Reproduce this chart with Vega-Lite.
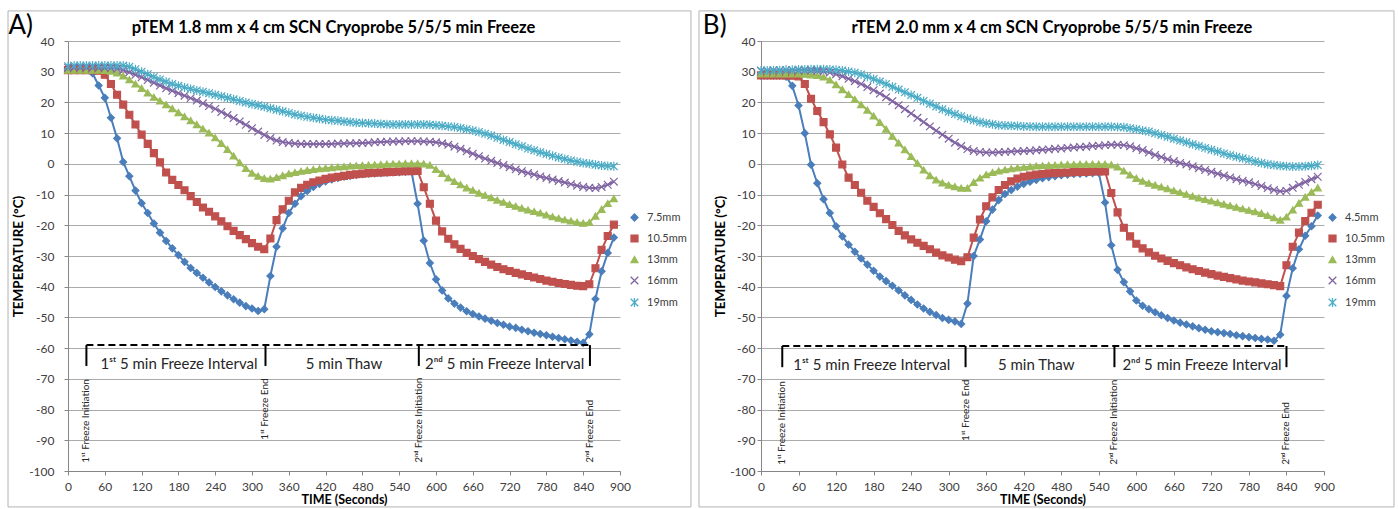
{
  "$schema": "https://vega.github.io/schema/vega-lite/v6.json",
  "padding": {"left": 7, "top": 10, "right": 4, "bottom": 1},
  "spacing": 6,
  "config": {
    "font": "Lato",
    "view": {"stroke": null},
    "axis": {"labelFont": "Lato", "labelFontSize": 12, "labelColor": "#404040", "titleFont": "Lato", "titleFontWeight": "bold", "titleColor": "#000000", "domainColor": "#868686", "tickColor": "#868686", "gridColor": "#ABABAB", "tickSize": 4, "labelOverlap": false, "labelFlush": false, "tickCount": 30},
    "axisX": {"grid": false, "labelPadding": 6, "titleFontSize": 12.5, "titlePadding": 1},
    "axisY": {"grid": true, "titleFontSize": 13.5},
    "legend": {"labelFont": "Lato", "labelFontSize": 11, "labelColor": "#404040", "rowPadding": 8, "labelOffset": 7, "symbolSize": 48, "symbolStrokeWidth": 1.3, "padding": 0}
  },
  "datasets": {
    "A": [
      {"t":0,"mm7_5":31,"mm10_5":30.5,"mm13":30.5,"mm16":31.3,"mm19":31.8},
      {"t":10,"mm7_5":31,"mm10_5":30.5,"mm13":30.5,"mm16":31.3,"mm19":32},
      {"t":20,"mm7_5":31,"mm10_5":30.5,"mm13":30.5,"mm16":31.3,"mm19":32},
      {"t":30,"mm7_5":30.8,"mm10_5":30.5,"mm13":30.5,"mm16":31.3,"mm19":32},
      {"t":40,"mm7_5":29.5,"mm10_5":30.5,"mm13":30.5,"mm16":31.3,"mm19":32},
      {"t":50,"mm7_5":25.5,"mm10_5":30.3,"mm13":30.5,"mm16":31.3,"mm19":32},
      {"t":60,"mm7_5":21.5,"mm10_5":29,"mm13":30.4,"mm16":31.3,"mm19":32},
      {"t":70,"mm7_5":15,"mm10_5":26,"mm13":30.2,"mm16":31.2,"mm19":32},
      {"t":80,"mm7_5":8.3,"mm10_5":22.5,"mm13":29.6,"mm16":31,"mm19":32},
      {"t":90,"mm7_5":0.6,"mm10_5":19.3,"mm13":28.6,"mm16":30.5,"mm19":32},
      {"t":100,"mm7_5":-4,"mm10_5":16,"mm13":27.4,"mm16":29.8,"mm19":31.6},
      {"t":110,"mm7_5":-8.7,"mm10_5":12.8,"mm13":26,"mm16":29,"mm19":30.8},
      {"t":120,"mm7_5":-12.8,"mm10_5":9.5,"mm13":24.6,"mm16":28.2,"mm19":30},
      {"t":130,"mm7_5":-16,"mm10_5":6.5,"mm13":23.1,"mm16":27.3,"mm19":29.2},
      {"t":140,"mm7_5":-19.4,"mm10_5":3.5,"mm13":21.7,"mm16":26.4,"mm19":28.3},
      {"t":150,"mm7_5":-22.4,"mm10_5":0.5,"mm13":20.5,"mm16":25.5,"mm19":27.5},
      {"t":160,"mm7_5":-25.1,"mm10_5":-2.8,"mm13":19.3,"mm16":24.6,"mm19":26.7},
      {"t":170,"mm7_5":-27.5,"mm10_5":-5.2,"mm13":18,"mm16":23.8,"mm19":26},
      {"t":180,"mm7_5":-29.7,"mm10_5":-6.9,"mm13":16.7,"mm16":23,"mm19":25.4},
      {"t":190,"mm7_5":-31.9,"mm10_5":-8.6,"mm13":15.4,"mm16":22.2,"mm19":24.9},
      {"t":200,"mm7_5":-33.9,"mm10_5":-10.5,"mm13":14.1,"mm16":21.4,"mm19":24.4},
      {"t":210,"mm7_5":-35.5,"mm10_5":-12.4,"mm13":12.8,"mm16":20.6,"mm19":23.9},
      {"t":220,"mm7_5":-37.1,"mm10_5":-14.2,"mm13":11.4,"mm16":19.7,"mm19":23.5},
      {"t":230,"mm7_5":-38.6,"mm10_5":-15.6,"mm13":10.1,"mm16":18.8,"mm19":23},
      {"t":240,"mm7_5":-40.1,"mm10_5":-17.1,"mm13":8.5,"mm16":17.9,"mm19":22.5},
      {"t":250,"mm7_5":-41.5,"mm10_5":-18.7,"mm13":6.7,"mm16":16.9,"mm19":22},
      {"t":260,"mm7_5":-42.8,"mm10_5":-20.3,"mm13":4.7,"mm16":15.9,"mm19":21.5},
      {"t":270,"mm7_5":-44.1,"mm10_5":-21.8,"mm13":2.6,"mm16":14.9,"mm19":21},
      {"t":280,"mm7_5":-45.2,"mm10_5":-23.2,"mm13":0.4,"mm16":13.8,"mm19":20.5},
      {"t":290,"mm7_5":-46.3,"mm10_5":-24.5,"mm13":-1.5,"mm16":12.7,"mm19":20},
      {"t":300,"mm7_5":-47.1,"mm10_5":-25.8,"mm13":-3,"mm16":11.6,"mm19":19.5},
      {"t":310,"mm7_5":-47.9,"mm10_5":-27,"mm13":-4,"mm16":10.5,"mm19":19.1},
      {"t":320,"mm7_5":-47.3,"mm10_5":-27.8,"mm13":-4.7,"mm16":9.4,"mm19":18.6},
      {"t":330,"mm7_5":-36.5,"mm10_5":-24.3,"mm13":-4.9,"mm16":8.4,"mm19":18.1},
      {"t":340,"mm7_5":-27,"mm10_5":-18.3,"mm13":-4.4,"mm16":7.6,"mm19":17.6},
      {"t":350,"mm7_5":-21,"mm10_5":-14.8,"mm13":-3.8,"mm16":7.1,"mm19":17.1},
      {"t":360,"mm7_5":-16,"mm10_5":-12,"mm13":-3.2,"mm16":6.8,"mm19":16.6},
      {"t":370,"mm7_5":-13,"mm10_5":-9.3,"mm13":-2.8,"mm16":6.6,"mm19":16.1},
      {"t":380,"mm7_5":-10.5,"mm10_5":-7.8,"mm13":-2.4,"mm16":6.5,"mm19":15.7},
      {"t":390,"mm7_5":-8.8,"mm10_5":-6.8,"mm13":-2.1,"mm16":6.5,"mm19":15.3},
      {"t":400,"mm7_5":-7.5,"mm10_5":-6,"mm13":-1.8,"mm16":6.5,"mm19":15},
      {"t":410,"mm7_5":-6.5,"mm10_5":-5.4,"mm13":-1.6,"mm16":6.5,"mm19":14.7},
      {"t":420,"mm7_5":-5.7,"mm10_5":-4.9,"mm13":-1.4,"mm16":6.5,"mm19":14.4},
      {"t":430,"mm7_5":-5.1,"mm10_5":-4.5,"mm13":-1.2,"mm16":6.5,"mm19":14.2},
      {"t":440,"mm7_5":-4.6,"mm10_5":-4.2,"mm13":-1,"mm16":6.6,"mm19":14},
      {"t":450,"mm7_5":-4.2,"mm10_5":-3.9,"mm13":-0.9,"mm16":6.6,"mm19":13.8},
      {"t":460,"mm7_5":-3.9,"mm10_5":-3.6,"mm13":-0.7,"mm16":6.7,"mm19":13.6},
      {"t":470,"mm7_5":-3.6,"mm10_5":-3.4,"mm13":-0.6,"mm16":6.7,"mm19":13.4},
      {"t":480,"mm7_5":-3.4,"mm10_5":-3.2,"mm13":-0.5,"mm16":6.8,"mm19":13.3},
      {"t":490,"mm7_5":-3.2,"mm10_5":-3,"mm13":-0.4,"mm16":6.9,"mm19":13.2},
      {"t":500,"mm7_5":-3.1,"mm10_5":-2.9,"mm13":-0.3,"mm16":7,"mm19":13.1},
      {"t":510,"mm7_5":-3,"mm10_5":-2.8,"mm13":-0.2,"mm16":7.1,"mm19":13},
      {"t":520,"mm7_5":-2.9,"mm10_5":-2.7,"mm13":-0.1,"mm16":7.2,"mm19":12.9},
      {"t":530,"mm7_5":-2.8,"mm10_5":-2.6,"mm13":0,"mm16":7.3,"mm19":12.8},
      {"t":540,"mm7_5":-2.7,"mm10_5":-2.5,"mm13":0,"mm16":7.3,"mm19":12.8},
      {"t":550,"mm7_5":-2.6,"mm10_5":-2.4,"mm13":0.1,"mm16":7.4,"mm19":12.8},
      {"t":560,"mm7_5":-2.5,"mm10_5":-2.4,"mm13":0.1,"mm16":7.4,"mm19":12.8},
      {"t":570,"mm7_5":-13,"mm10_5":-2.3,"mm13":0.1,"mm16":7.4,"mm19":12.8},
      {"t":580,"mm7_5":-25,"mm10_5":-7.6,"mm13":0,"mm16":7.3,"mm19":12.8},
      {"t":590,"mm7_5":-32.3,"mm10_5":-13,"mm13":-0.4,"mm16":7.2,"mm19":12.7},
      {"t":600,"mm7_5":-37.6,"mm10_5":-18.5,"mm13":-1.8,"mm16":7,"mm19":12.6},
      {"t":610,"mm7_5":-41.2,"mm10_5":-22,"mm13":-3.1,"mm16":6.7,"mm19":12.4},
      {"t":620,"mm7_5":-43.8,"mm10_5":-24.4,"mm13":-4.6,"mm16":6.2,"mm19":12.2},
      {"t":630,"mm7_5":-45.5,"mm10_5":-26.2,"mm13":-5.7,"mm16":5.6,"mm19":12},
      {"t":640,"mm7_5":-46.8,"mm10_5":-27.7,"mm13":-6.8,"mm16":4.9,"mm19":11.7},
      {"t":650,"mm7_5":-48,"mm10_5":-29,"mm13":-7.8,"mm16":4.1,"mm19":11.3},
      {"t":660,"mm7_5":-48.9,"mm10_5":-30,"mm13":-8.6,"mm16":3.3,"mm19":10.9},
      {"t":670,"mm7_5":-49.7,"mm10_5":-31,"mm13":-9.5,"mm16":2.5,"mm19":10.4},
      {"t":680,"mm7_5":-50.4,"mm10_5":-31.9,"mm13":-10.2,"mm16":1.7,"mm19":9.8},
      {"t":690,"mm7_5":-51.1,"mm10_5":-32.8,"mm13":-11,"mm16":1,"mm19":9.2},
      {"t":700,"mm7_5":-51.8,"mm10_5":-33.6,"mm13":-11.8,"mm16":0.3,"mm19":8.5},
      {"t":710,"mm7_5":-52.4,"mm10_5":-34.3,"mm13":-12.5,"mm16":-0.4,"mm19":7.8},
      {"t":720,"mm7_5":-53,"mm10_5":-34.9,"mm13":-13.2,"mm16":-1.1,"mm19":7.1},
      {"t":730,"mm7_5":-53.4,"mm10_5":-35.5,"mm13":-13.8,"mm16":-1.8,"mm19":6.4},
      {"t":740,"mm7_5":-54,"mm10_5":-36,"mm13":-14.4,"mm16":-2.4,"mm19":5.7},
      {"t":750,"mm7_5":-54.5,"mm10_5":-36.5,"mm13":-15,"mm16":-3,"mm19":5},
      {"t":760,"mm7_5":-55,"mm10_5":-37,"mm13":-15.5,"mm16":-3.5,"mm19":4.4},
      {"t":770,"mm7_5":-55.4,"mm10_5":-37.5,"mm13":-16,"mm16":-4.1,"mm19":3.8},
      {"t":780,"mm7_5":-55.8,"mm10_5":-38,"mm13":-16.6,"mm16":-4.6,"mm19":3.2},
      {"t":790,"mm7_5":-56.3,"mm10_5":-38.4,"mm13":-17.2,"mm16":-5.1,"mm19":2.6},
      {"t":800,"mm7_5":-56.7,"mm10_5":-38.8,"mm13":-17.7,"mm16":-5.6,"mm19":2.1},
      {"t":810,"mm7_5":-57.1,"mm10_5":-39.1,"mm13":-18.2,"mm16":-6.1,"mm19":1.6},
      {"t":820,"mm7_5":-57.5,"mm10_5":-39.4,"mm13":-18.6,"mm16":-6.6,"mm19":1.1},
      {"t":830,"mm7_5":-57.9,"mm10_5":-39.7,"mm13":-19,"mm16":-7.1,"mm19":0.7},
      {"t":840,"mm7_5":-58.3,"mm10_5":-39.8,"mm13":-19.3,"mm16":-7.5,"mm19":0.3},
      {"t":850,"mm7_5":-55.5,"mm10_5":-39.2,"mm13":-19.1,"mm16":-7.8,"mm19":0},
      {"t":860,"mm7_5":-44,"mm10_5":-34,"mm13":-17,"mm16":-7.9,"mm19":-0.3},
      {"t":870,"mm7_5":-35,"mm10_5":-28,"mm13":-14.8,"mm16":-7.5,"mm19":-0.5},
      {"t":880,"mm7_5":-29,"mm10_5":-23.5,"mm13":-12.9,"mm16":-6.8,"mm19":-0.7},
      {"t":890,"mm7_5":-24,"mm10_5":-19.8,"mm13":-11.3,"mm16":-5.8,"mm19":-0.8}
    ],
    "B": [
      {"t":0,"mm4_5":28.7,"mm10_5":28.8,"mm13":29.3,"mm16":30.3,"mm19":30.4},
      {"t":10,"mm4_5":28.7,"mm10_5":28.8,"mm13":29.3,"mm16":30.3,"mm19":30.4},
      {"t":20,"mm4_5":28.7,"mm10_5":28.8,"mm13":29.3,"mm16":30.4,"mm19":30.5},
      {"t":30,"mm4_5":28.7,"mm10_5":28.8,"mm13":29.3,"mm16":30.4,"mm19":30.5},
      {"t":40,"mm4_5":28.4,"mm10_5":28.8,"mm13":29.3,"mm16":30.5,"mm19":30.6},
      {"t":50,"mm4_5":25.4,"mm10_5":28.7,"mm13":29.3,"mm16":30.5,"mm19":30.6},
      {"t":60,"mm4_5":19,"mm10_5":28.5,"mm13":29.3,"mm16":30.5,"mm19":30.7},
      {"t":70,"mm4_5":10,"mm10_5":26,"mm13":29.2,"mm16":30.5,"mm19":30.7},
      {"t":80,"mm4_5":-0.3,"mm10_5":21.2,"mm13":29,"mm16":30.4,"mm19":30.8},
      {"t":90,"mm4_5":-6.3,"mm10_5":17.2,"mm13":28.8,"mm16":30.3,"mm19":30.8},
      {"t":100,"mm4_5":-11.5,"mm10_5":13.6,"mm13":28.3,"mm16":30.1,"mm19":30.8},
      {"t":110,"mm4_5":-16,"mm10_5":9.6,"mm13":27.3,"mm16":29.7,"mm19":30.7},
      {"t":120,"mm4_5":-20.3,"mm10_5":5.3,"mm13":25.8,"mm16":29.2,"mm19":30.6},
      {"t":130,"mm4_5":-23.6,"mm10_5":-0.2,"mm13":24.2,"mm16":28.5,"mm19":30.4},
      {"t":140,"mm4_5":-26.3,"mm10_5":-4.5,"mm13":22.6,"mm16":27.7,"mm19":30.1},
      {"t":150,"mm4_5":-28.6,"mm10_5":-6.9,"mm13":21,"mm16":26.9,"mm19":29.7},
      {"t":160,"mm4_5":-30.8,"mm10_5":-9.4,"mm13":19.3,"mm16":26,"mm19":29.1},
      {"t":170,"mm4_5":-32.8,"mm10_5":-12,"mm13":17.5,"mm16":25,"mm19":28.4},
      {"t":180,"mm4_5":-34.8,"mm10_5":-14,"mm13":15.6,"mm16":24,"mm19":27.6},
      {"t":190,"mm4_5":-36.7,"mm10_5":-16.1,"mm13":13.5,"mm16":22.9,"mm19":26.8},
      {"t":200,"mm4_5":-38.2,"mm10_5":-18,"mm13":11.3,"mm16":21.7,"mm19":26},
      {"t":210,"mm4_5":-39.7,"mm10_5":-19.9,"mm13":9,"mm16":20.4,"mm19":25.1},
      {"t":220,"mm4_5":-41.2,"mm10_5":-21.8,"mm13":6.8,"mm16":19.1,"mm19":24.2},
      {"t":230,"mm4_5":-42.8,"mm10_5":-23.3,"mm13":4.6,"mm16":17.8,"mm19":23.3},
      {"t":240,"mm4_5":-44.3,"mm10_5":-24.6,"mm13":2.4,"mm16":16.4,"mm19":22.4},
      {"t":250,"mm4_5":-45.8,"mm10_5":-25.7,"mm13":0.2,"mm16":15,"mm19":21.5},
      {"t":260,"mm4_5":-47.1,"mm10_5":-26.7,"mm13":-2,"mm16":13.6,"mm19":20.5},
      {"t":270,"mm4_5":-48.2,"mm10_5":-27.8,"mm13":-3.8,"mm16":12.2,"mm19":19.6},
      {"t":280,"mm4_5":-49.2,"mm10_5":-28.9,"mm13":-5.2,"mm16":10.8,"mm19":18.7},
      {"t":290,"mm4_5":-50.2,"mm10_5":-29.8,"mm13":-6.2,"mm16":9.5,"mm19":17.8},
      {"t":300,"mm4_5":-50.8,"mm10_5":-30.5,"mm13":-6.9,"mm16":8.2,"mm19":17},
      {"t":310,"mm4_5":-51.3,"mm10_5":-31.2,"mm13":-7.4,"mm16":6.9,"mm19":16.2},
      {"t":320,"mm4_5":-52.1,"mm10_5":-31.7,"mm13":-7.9,"mm16":5.8,"mm19":15.5},
      {"t":330,"mm4_5":-45.5,"mm10_5":-30.4,"mm13":-7.9,"mm16":4.8,"mm19":14.8},
      {"t":340,"mm4_5":-30,"mm10_5":-24,"mm13":-6,"mm16":4.2,"mm19":14.2},
      {"t":350,"mm4_5":-24.6,"mm10_5":-18.1,"mm13":-4.6,"mm16":3.9,"mm19":13.6},
      {"t":360,"mm4_5":-18.7,"mm10_5":-13.8,"mm13":-3.5,"mm16":3.7,"mm19":13.2},
      {"t":370,"mm4_5":-14.9,"mm10_5":-10.9,"mm13":-2.8,"mm16":3.7,"mm19":12.9},
      {"t":380,"mm4_5":-11.8,"mm10_5":-8.5,"mm13":-2.3,"mm16":3.8,"mm19":12.6},
      {"t":390,"mm4_5":-9.8,"mm10_5":-6.9,"mm13":-1.9,"mm16":3.9,"mm19":12.5},
      {"t":400,"mm4_5":-8.5,"mm10_5":-5.7,"mm13":-1.6,"mm16":4,"mm19":12.4},
      {"t":410,"mm4_5":-7.4,"mm10_5":-4.8,"mm13":-1.3,"mm16":4.1,"mm19":12.3},
      {"t":420,"mm4_5":-6.5,"mm10_5":-4.2,"mm13":-1.1,"mm16":4.2,"mm19":12.2},
      {"t":430,"mm4_5":-5.8,"mm10_5":-3.8,"mm13":-0.9,"mm16":4.3,"mm19":12.2},
      {"t":440,"mm4_5":-5.2,"mm10_5":-3.5,"mm13":-0.7,"mm16":4.4,"mm19":12.1},
      {"t":450,"mm4_5":-4.7,"mm10_5":-3.3,"mm13":-0.6,"mm16":4.6,"mm19":12.1},
      {"t":460,"mm4_5":-4.3,"mm10_5":-3.1,"mm13":-0.5,"mm16":4.7,"mm19":12.1},
      {"t":470,"mm4_5":-4,"mm10_5":-3,"mm13":-0.4,"mm16":4.9,"mm19":12.1},
      {"t":480,"mm4_5":-3.7,"mm10_5":-2.9,"mm13":-0.3,"mm16":5,"mm19":12.1},
      {"t":490,"mm4_5":-3.5,"mm10_5":-2.8,"mm13":-0.2,"mm16":5.2,"mm19":12.1},
      {"t":500,"mm4_5":-3.3,"mm10_5":-2.7,"mm13":-0.2,"mm16":5.3,"mm19":12.1},
      {"t":510,"mm4_5":-3.2,"mm10_5":-2.6,"mm13":-0.1,"mm16":5.5,"mm19":12.1},
      {"t":520,"mm4_5":-3.1,"mm10_5":-2.6,"mm13":-0.1,"mm16":5.6,"mm19":12.1},
      {"t":530,"mm4_5":-3,"mm10_5":-2.5,"mm13":-0.1,"mm16":5.8,"mm19":12.1},
      {"t":540,"mm4_5":-2.9,"mm10_5":-2.5,"mm13":-0.1,"mm16":5.9,"mm19":12.1},
      {"t":550,"mm4_5":-12.6,"mm10_5":-2.5,"mm13":-0.1,"mm16":6.1,"mm19":12.1},
      {"t":560,"mm4_5":-26.5,"mm10_5":-9.5,"mm13":-0.3,"mm16":6.2,"mm19":12.1},
      {"t":570,"mm4_5":-34.5,"mm10_5":-15.8,"mm13":-1,"mm16":6.2,"mm19":12},
      {"t":580,"mm4_5":-38.5,"mm10_5":-20.8,"mm13":-2.3,"mm16":6.1,"mm19":11.9},
      {"t":590,"mm4_5":-41.5,"mm10_5":-23.6,"mm13":-3.6,"mm16":5.7,"mm19":11.6},
      {"t":600,"mm4_5":-44.5,"mm10_5":-26,"mm13":-4.7,"mm16":5.1,"mm19":11.3},
      {"t":610,"mm4_5":-46.2,"mm10_5":-27.5,"mm13":-5.6,"mm16":4.5,"mm19":10.9},
      {"t":620,"mm4_5":-47.3,"mm10_5":-28.8,"mm13":-6.3,"mm16":3.7,"mm19":10.5},
      {"t":630,"mm4_5":-48.3,"mm10_5":-29.9,"mm13":-6.9,"mm16":2.9,"mm19":10},
      {"t":640,"mm4_5":-49.3,"mm10_5":-30.8,"mm13":-7.5,"mm16":2.2,"mm19":9.4},
      {"t":650,"mm4_5":-50.2,"mm10_5":-31.6,"mm13":-8.1,"mm16":1.5,"mm19":8.8},
      {"t":660,"mm4_5":-51,"mm10_5":-32.3,"mm13":-8.7,"mm16":0.9,"mm19":8.2},
      {"t":670,"mm4_5":-51.7,"mm10_5":-33,"mm13":-9.3,"mm16":0.3,"mm19":7.6},
      {"t":680,"mm4_5":-52.3,"mm10_5":-33.7,"mm13":-9.9,"mm16":-0.2,"mm19":7},
      {"t":690,"mm4_5":-52.9,"mm10_5":-34.3,"mm13":-10.5,"mm16":-0.8,"mm19":6.4},
      {"t":700,"mm4_5":-53.5,"mm10_5":-34.9,"mm13":-11.1,"mm16":-1.4,"mm19":5.8},
      {"t":710,"mm4_5":-54,"mm10_5":-35.4,"mm13":-11.6,"mm16":-2,"mm19":5.2},
      {"t":720,"mm4_5":-54.5,"mm10_5":-35.9,"mm13":-12.1,"mm16":-2.6,"mm19":4.6},
      {"t":730,"mm4_5":-54.8,"mm10_5":-36.4,"mm13":-12.6,"mm16":-3.2,"mm19":4},
      {"t":740,"mm4_5":-55.1,"mm10_5":-36.8,"mm13":-13.1,"mm16":-3.8,"mm19":3.4},
      {"t":750,"mm4_5":-55.4,"mm10_5":-37.2,"mm13":-13.6,"mm16":-4.4,"mm19":2.8},
      {"t":760,"mm4_5":-55.8,"mm10_5":-37.6,"mm13":-14.1,"mm16":-5,"mm19":2.3},
      {"t":770,"mm4_5":-56.1,"mm10_5":-38,"mm13":-14.6,"mm16":-5.5,"mm19":1.8},
      {"t":780,"mm4_5":-56.4,"mm10_5":-38.3,"mm13":-15.1,"mm16":-6,"mm19":1.3},
      {"t":790,"mm4_5":-56.7,"mm10_5":-38.6,"mm13":-15.6,"mm16":-6.6,"mm19":0.8},
      {"t":800,"mm4_5":-57,"mm10_5":-38.9,"mm13":-16.1,"mm16":-7.2,"mm19":0.3},
      {"t":810,"mm4_5":-57.2,"mm10_5":-39.2,"mm13":-16.8,"mm16":-7.9,"mm19":-0.1},
      {"t":820,"mm4_5":-57.6,"mm10_5":-39.5,"mm13":-17.5,"mm16":-8.5,"mm19":-0.4},
      {"t":830,"mm4_5":-55.6,"mm10_5":-39.8,"mm13":-18.3,"mm16":-8.9,"mm19":-0.6},
      {"t":840,"mm4_5":-43,"mm10_5":-33,"mm13":-17.3,"mm16":-8.8,"mm19":-0.8},
      {"t":850,"mm4_5":-34,"mm10_5":-27,"mm13":-15,"mm16":-7.8,"mm19":-0.9},
      {"t":860,"mm4_5":-27.8,"mm10_5":-22.4,"mm13":-12.8,"mm16":-6.8,"mm19":-0.9},
      {"t":870,"mm4_5":-23.4,"mm10_5":-18.6,"mm13":-10.8,"mm16":-5.9,"mm19":-0.8},
      {"t":880,"mm4_5":-20.3,"mm10_5":-15.9,"mm13":-9.2,"mm16":-5,"mm19":-0.6},
      {"t":890,"mm4_5":-16.8,"mm10_5":-13.3,"mm13":-7.8,"mm16":-4.2,"mm19":-0.4}
    ],
    "eventsA": [
      {"t":30,"label":"1ˢᵗ Freeze Initiation"},
      {"t":322,"label":"1ˢᵗ Freeze End"},
      {"t":572,"label":"2ⁿᵈ Freeze Initiation"},
      {"t":851,"label":"2ⁿᵈ Freeze End"}
    ],
    "eventsB": [
      {"t":34,"label":"1ˢᵗ Freeze Initiation"},
      {"t":327,"label":"1ˢᵗ Freeze End"},
      {"t":565,"label":"2ⁿᵈ Freeze Initiation"},
      {"t":840,"label":"2ⁿᵈ Freeze End"}
    ],
    "intervalsA": [
      {"t":181,"label":"1ˢᵗ 5 min Freeze Interval"},
      {"t":450,"label":"5 min Thaw"},
      {"t":712,"label":"2ⁿᵈ 5 min Freeze Interval"}
    ],
    "intervalsB": [
      {"t":177,"label":"1ˢᵗ 5 min Freeze Interval"},
      {"t":440,"label":"5 min Thaw"},
      {"t":705,"label":"2ⁿᵈ 5 min Freeze Interval"}
    ]
  },
  "resolve": {
    "scale": {"color": "independent", "fill": "independent", "shape": "independent"},
    "legend": {"color": "independent", "fill": "independent", "shape": "independent"}
  },
  "hconcat": [
    {
      "width": 552,
      "height": 430,
      "layer": [
        {
          "data": {"values": [{}]},
          "mark": {"type": "rect", "filled": false, "stroke": "#B3B3B3", "strokeWidth": 1},
          "encoding": {
            "x": {"datum": -97.8, "type": "quantitative", "title": "TIME (Seconds)", "scale": {"domain": [0, 900], "nice": false}, "axis": {"values": [0,60,120,180,240,300,360,420,480,540,600,660,720,780,840,900], "tickCount": 30, "labelOverlap": false, "labelFlush": false}},
            "x2": {"datum": 1015.7},
            "y": {"datum": 49.8, "type": "quantitative", "title": "TEMPERATURE  (°C)", "scale": {"domain": [-100, 40], "nice": false}, "axis": {"values": [-100,-90,-80,-70,-60,-50,-40,-30,-20,-10,0,10,20,30,40], "tickCount": 30, "labelPadding": 10, "titlePadding": 3, "labelExpr": "'' + datum.value", "labelOverlap": false}},
            "y2": {"datum": -111.7}
          }
        },
        {
          "data": {"name": "A"},
          "transform": [{"fold": ["mm7_5", "mm10_5", "mm13", "mm16", "mm19"], "as": ["series", "temp"]}],
          "mark": {"type": "line", "strokeWidth": 2},
          "encoding": {
            "x": {"field": "t", "type": "quantitative", "title": "TIME (Seconds)", "scale": {"domain": [0, 900], "nice": false}, "axis": {"values": [0,60,120,180,240,300,360,420,480,540,600,660,720,780,840,900], "tickCount": 30, "labelOverlap": false, "labelFlush": false}},
            "y": {"field": "temp", "type": "quantitative", "title": "TEMPERATURE  (°C)", "scale": {"domain": [-100, 40], "nice": false}, "axis": {"values": [-100,-90,-80,-70,-60,-50,-40,-30,-20,-10,0,10,20,30,40], "tickCount": 30, "labelPadding": 10, "titlePadding": 3, "labelExpr": "'' + datum.value", "labelOverlap": false}},
            "color": {"field": "series", "type": "nominal", "scale": {"domain": ["mm7_5", "mm10_5", "mm13", "mm16", "mm19"], "range": ["#4A7EBB", "#C0504D", "#9BBB59", "#8064A2", "#4BACC6"]}, "legend": {"orient": "none", "legendX": 561, "legendY": 171, "title": null, "labelExpr": "replace(slice(datum.label, 2), '_', '.') + 'mm'"}}
          }
        },
        {
          "data": {"name": "A"},
          "transform": [{"fold": ["mm7_5", "mm10_5", "mm13", "mm16", "mm19"], "as": ["series", "temp"]}],
          "mark": {"type": "point", "filled": false, "size": 48, "strokeWidth": 1.2, "fillOpacity": 1, "opacity": 1},
          "encoding": {
            "x": {"field": "t", "type": "quantitative", "title": "TIME (Seconds)", "scale": {"domain": [0, 900], "nice": false}},
            "y": {"field": "temp", "type": "quantitative", "title": "TEMPERATURE  (°C)", "scale": {"domain": [-100, 40], "nice": false}},
            "color": {"field": "series", "type": "nominal", "scale": {"domain": ["mm7_5", "mm10_5", "mm13", "mm16", "mm19"], "range": ["#4A7EBB", "#C0504D", "#9BBB59", "#8064A2", "#4BACC6"]}, "legend": {"orient": "none", "legendX": 561, "legendY": 171, "title": null, "labelExpr": "replace(slice(datum.label, 2), '_', '.') + 'mm'"}},
            "fill": {"field": "series", "type": "nominal", "scale": {"domain": ["mm7_5", "mm10_5", "mm13", "mm16", "mm19"], "range": ["#4A7EBB", "#C0504D", "#9BBB59", "#8064A2", "#4BACC6"]}, "legend": {"orient": "none", "legendX": 561, "legendY": 171, "title": null, "labelExpr": "replace(slice(datum.label, 2), '_', '.') + 'mm'"}},
            "shape": {"field": "series", "type": "nominal", "scale": {"domain": ["mm7_5", "mm10_5", "mm13", "mm16", "mm19"], "range": ["diamond", "square", "triangle-up", "M-1.1,-1.1L1.1,1.1M-1.1,1.1L1.1,-1.1", "M-1.1,-1.1L1.1,1.1M-1.1,1.1L1.1,-1.1M0,-1.3L0,1.3"]}, "legend": {"orient": "none", "legendX": 561, "legendY": 171, "title": null, "labelExpr": "replace(slice(datum.label, 2), '_', '.') + 'mm'"}}
          }
        },
        {
          "data": {"values": [{}]},
          "mark": {"type": "rule", "color": "#000000", "strokeWidth": 2, "strokeDash": [7, 4]},
          "encoding": {
            "x": {"datum": 30, "type": "quantitative", "title": "TIME (Seconds)", "scale": {"domain": [0, 900], "nice": false}},
            "x2": {"datum": 851},
            "y": {"datum": -59, "type": "quantitative", "title": "TEMPERATURE  (°C)", "scale": {"domain": [-100, 40], "nice": false}}
          }
        },
        {
          "data": {"name": "eventsA"},
          "mark": {"type": "rule", "color": "#000000", "strokeWidth": 2},
          "encoding": {
            "x": {"field": "t", "type": "quantitative", "title": "TIME (Seconds)", "scale": {"domain": [0, 900], "nice": false}},
            "y": {"datum": -59, "type": "quantitative", "title": "TEMPERATURE  (°C)", "scale": {"domain": [-100, 40], "nice": false}},
            "y2": {"datum": -65.8}
          }
        },
        {
          "data": {"name": "intervalsA"},
          "mark": {"type": "text", "fontSize": 15, "color": "#262626", "baseline": "middle", "align": "center"},
          "encoding": {
            "x": {"field": "t", "type": "quantitative", "title": "TIME (Seconds)", "scale": {"domain": [0, 900], "nice": false}},
            "y": {"datum": -65.3, "type": "quantitative", "title": "TEMPERATURE  (°C)", "scale": {"domain": [-100, 40], "nice": false}},
            "text": {"field": "label"}
          }
        },
        {
          "data": {"name": "eventsA"},
          "transform": [{"filter": "datum.label != '1ˢᵗ Freeze End'"}],
          "mark": {"type": "text", "fontSize": 10, "color": "#262626", "angle": 270, "align": "left", "baseline": "middle"},
          "encoding": {
            "x": {"field": "t", "type": "quantitative", "title": "TIME (Seconds)", "scale": {"domain": [0, 900], "nice": false}},
            "y": {"datum": -97.3, "type": "quantitative", "title": "TEMPERATURE  (°C)", "scale": {"domain": [-100, 40], "nice": false}},
            "text": {"field": "label"}
          }
        },
        {
          "data": {"name": "eventsA"},
          "transform": [{"filter": "datum.label == '1ˢᵗ Freeze End'"}],
          "mark": {"type": "text", "fontSize": 10, "color": "#262626", "angle": 270, "align": "left", "baseline": "middle"},
          "encoding": {
            "x": {"field": "t", "type": "quantitative", "title": "TIME (Seconds)", "scale": {"domain": [0, 900], "nice": false}},
            "y": {"datum": -89.8, "type": "quantitative", "title": "TEMPERATURE  (°C)", "scale": {"domain": [-100, 40], "nice": false}},
            "text": {"field": "label"}
          }
        },
        {
          "data": {"values": [{"panel": "A)"}]},
          "mark": {"type": "text", "fontSize": 26, "color": "#000000", "align": "left", "baseline": "alphabetic"},
          "encoding": {
            "x": {"datum": -97, "type": "quantitative", "title": "TIME (Seconds)", "scale": {"domain": [0, 900], "nice": false}},
            "y": {"datum": 42.3, "type": "quantitative", "title": "TEMPERATURE  (°C)", "scale": {"domain": [-100, 40], "nice": false}},
            "text": {"field": "panel"}
          }
        },
        {
          "data": {"values": [{"heading": "pTEM 1.8 mm x 4 cm SCN Cryoprobe 5/5/5 min Freeze"}]},
          "mark": {"type": "text", "fontSize": 16.5, "fontWeight": "bold", "color": "#000000", "align": "center", "baseline": "middle"},
          "encoding": {
            "x": {"datum": 433, "type": "quantitative", "title": "TIME (Seconds)", "scale": {"domain": [0, 900], "nice": false}},
            "y": {"datum": 44.2, "type": "quantitative", "title": "TEMPERATURE  (°C)", "scale": {"domain": [-100, 40], "nice": false}},
            "text": {"field": "heading"}
          }
        }
      ]
    },
    {
      "width": 563,
      "height": 430,
      "layer": [
        {
          "data": {"values": [{}]},
          "mark": {"type": "rect", "filled": false, "stroke": "#B3B3B3", "strokeWidth": 1},
          "encoding": {
            "x": {"datum": -99.1, "type": "quantitative", "title": "TIME (Seconds)", "scale": {"domain": [0, 900], "nice": false}, "axis": {"values": [0,60,120,180,240,300,360,420,480,540,600,660,720,780,840,900], "tickCount": 30, "labelOverlap": false, "labelFlush": false}},
            "x2": {"datum": 1011.9},
            "y": {"datum": 49.8, "type": "quantitative", "title": "TEMPERATURE  (°C)", "scale": {"domain": [-100, 40], "nice": false}, "axis": {"values": [-100,-90,-80,-70,-60,-50,-40,-30,-20,-10,0,10,20,30,40], "tickCount": 30, "labelPadding": 2, "titlePadding": 2, "labelExpr": "'' + datum.value", "labelOverlap": false}},
            "y2": {"datum": -111.7}
          }
        },
        {
          "data": {"name": "B"},
          "transform": [{"fold": ["mm4_5", "mm10_5", "mm13", "mm16", "mm19"], "as": ["series", "temp"]}],
          "mark": {"type": "line", "strokeWidth": 2},
          "encoding": {
            "x": {"field": "t", "type": "quantitative", "title": "TIME (Seconds)", "scale": {"domain": [0, 900], "nice": false}, "axis": {"values": [0,60,120,180,240,300,360,420,480,540,600,660,720,780,840,900], "tickCount": 30, "labelOverlap": false, "labelFlush": false}},
            "y": {"field": "temp", "type": "quantitative", "title": "TEMPERATURE  (°C)", "scale": {"domain": [-100, 40], "nice": false}, "axis": {"values": [-100,-90,-80,-70,-60,-50,-40,-30,-20,-10,0,10,20,30,40], "tickCount": 30, "labelPadding": 2, "titlePadding": 2, "labelExpr": "'' + datum.value", "labelOverlap": false}},
            "color": {"field": "series", "type": "nominal", "scale": {"domain": ["mm4_5", "mm10_5", "mm13", "mm16", "mm19"], "range": ["#4A7EBB", "#C0504D", "#9BBB59", "#8064A2", "#4BACC6"]}, "legend": {"orient": "none", "legendX": 566, "legendY": 171, "title": null, "labelExpr": "replace(slice(datum.label, 2), '_', '.') + 'mm'"}}
          }
        },
        {
          "data": {"name": "B"},
          "transform": [{"fold": ["mm4_5", "mm10_5", "mm13", "mm16", "mm19"], "as": ["series", "temp"]}],
          "mark": {"type": "point", "filled": false, "size": 48, "strokeWidth": 1.2, "fillOpacity": 1, "opacity": 1},
          "encoding": {
            "x": {"field": "t", "type": "quantitative", "title": "TIME (Seconds)", "scale": {"domain": [0, 900], "nice": false}},
            "y": {"field": "temp", "type": "quantitative", "title": "TEMPERATURE  (°C)", "scale": {"domain": [-100, 40], "nice": false}},
            "color": {"field": "series", "type": "nominal", "scale": {"domain": ["mm4_5", "mm10_5", "mm13", "mm16", "mm19"], "range": ["#4A7EBB", "#C0504D", "#9BBB59", "#8064A2", "#4BACC6"]}, "legend": {"orient": "none", "legendX": 566, "legendY": 171, "title": null, "labelExpr": "replace(slice(datum.label, 2), '_', '.') + 'mm'"}},
            "fill": {"field": "series", "type": "nominal", "scale": {"domain": ["mm4_5", "mm10_5", "mm13", "mm16", "mm19"], "range": ["#4A7EBB", "#C0504D", "#9BBB59", "#8064A2", "#4BACC6"]}, "legend": {"orient": "none", "legendX": 566, "legendY": 171, "title": null, "labelExpr": "replace(slice(datum.label, 2), '_', '.') + 'mm'"}},
            "shape": {"field": "series", "type": "nominal", "scale": {"domain": ["mm4_5", "mm10_5", "mm13", "mm16", "mm19"], "range": ["diamond", "square", "triangle-up", "M-1.1,-1.1L1.1,1.1M-1.1,1.1L1.1,-1.1", "M-1.1,-1.1L1.1,1.1M-1.1,1.1L1.1,-1.1M0,-1.3L0,1.3"]}, "legend": {"orient": "none", "legendX": 566, "legendY": 171, "title": null, "labelExpr": "replace(slice(datum.label, 2), '_', '.') + 'mm'"}}
          }
        },
        {
          "data": {"values": [{}]},
          "mark": {"type": "rule", "color": "#000000", "strokeWidth": 2, "strokeDash": [7, 4]},
          "encoding": {
            "x": {"datum": 34, "type": "quantitative", "title": "TIME (Seconds)", "scale": {"domain": [0, 900], "nice": false}},
            "x2": {"datum": 840},
            "y": {"datum": -59.3, "type": "quantitative", "title": "TEMPERATURE  (°C)", "scale": {"domain": [-100, 40], "nice": false}}
          }
        },
        {
          "data": {"name": "eventsB"},
          "mark": {"type": "rule", "color": "#000000", "strokeWidth": 2},
          "encoding": {
            "x": {"field": "t", "type": "quantitative", "title": "TIME (Seconds)", "scale": {"domain": [0, 900], "nice": false}},
            "y": {"datum": -59.3, "type": "quantitative", "title": "TEMPERATURE  (°C)", "scale": {"domain": [-100, 40], "nice": false}},
            "y2": {"datum": -66.2}
          }
        },
        {
          "data": {"name": "intervalsB"},
          "mark": {"type": "text", "fontSize": 15, "color": "#262626", "baseline": "middle", "align": "center"},
          "encoding": {
            "x": {"field": "t", "type": "quantitative", "title": "TIME (Seconds)", "scale": {"domain": [0, 900], "nice": false}},
            "y": {"datum": -65.6, "type": "quantitative", "title": "TEMPERATURE  (°C)", "scale": {"domain": [-100, 40], "nice": false}},
            "text": {"field": "label"}
          }
        },
        {
          "data": {"name": "eventsB"},
          "transform": [{"filter": "datum.label != '1ˢᵗ Freeze End'"}],
          "mark": {"type": "text", "fontSize": 10, "color": "#262626", "angle": 270, "align": "left", "baseline": "middle"},
          "encoding": {
            "x": {"field": "t", "type": "quantitative", "title": "TIME (Seconds)", "scale": {"domain": [0, 900], "nice": false}},
            "y": {"datum": -98, "type": "quantitative", "title": "TEMPERATURE  (°C)", "scale": {"domain": [-100, 40], "nice": false}},
            "text": {"field": "label"}
          }
        },
        {
          "data": {"name": "eventsB"},
          "transform": [{"filter": "datum.label == '1ˢᵗ Freeze End'"}],
          "mark": {"type": "text", "fontSize": 10, "color": "#262626", "angle": 270, "align": "left", "baseline": "middle"},
          "encoding": {
            "x": {"field": "t", "type": "quantitative", "title": "TIME (Seconds)", "scale": {"domain": [0, 900], "nice": false}},
            "y": {"datum": -90.2, "type": "quantitative", "title": "TEMPERATURE  (°C)", "scale": {"domain": [-100, 40], "nice": false}},
            "text": {"field": "label"}
          }
        },
        {
          "data": {"values": [{"panel": "B)"}]},
          "mark": {"type": "text", "fontSize": 26, "color": "#000000", "align": "left", "baseline": "alphabetic"},
          "encoding": {
            "x": {"datum": -93, "type": "quantitative", "title": "TIME (Seconds)", "scale": {"domain": [0, 900], "nice": false}},
            "y": {"datum": 42.3, "type": "quantitative", "title": "TEMPERATURE  (°C)", "scale": {"domain": [-100, 40], "nice": false}},
            "text": {"field": "panel"}
          }
        },
        {
          "data": {"values": [{"heading": "rTEM 2.0 mm x 4 cm SCN Cryoprobe 5/5/5 min Freeze"}]},
          "mark": {"type": "text", "fontSize": 16.5, "fontWeight": "bold", "color": "#000000", "align": "center", "baseline": "middle"},
          "encoding": {
            "x": {"datum": 465, "type": "quantitative", "title": "TIME (Seconds)", "scale": {"domain": [0, 900], "nice": false}},
            "y": {"datum": 44.2, "type": "quantitative", "title": "TEMPERATURE  (°C)", "scale": {"domain": [-100, 40], "nice": false}},
            "text": {"field": "heading"}
          }
        }
      ]
    }
  ]
}
